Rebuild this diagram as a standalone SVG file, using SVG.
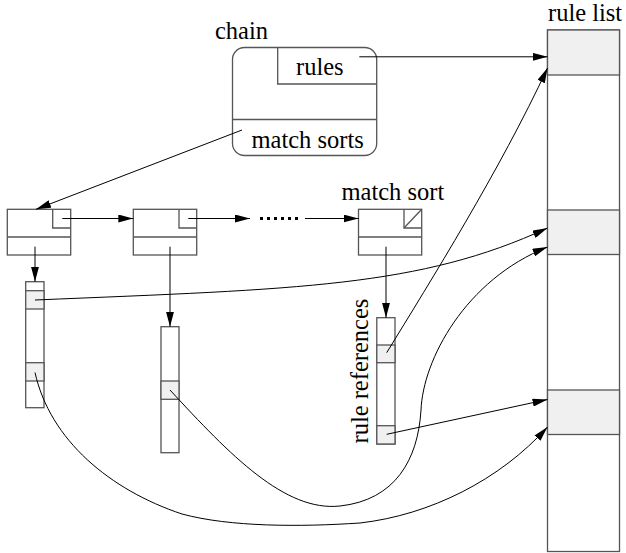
<svg xmlns="http://www.w3.org/2000/svg" width="626" height="553" viewBox="0 0 626 553">
  <style>
    .box { fill: #ffffff; stroke: #555555; stroke-width: 1.3; }
    .cell { fill: #f0f0f0; stroke: #555555; stroke-width: 1.3; }
    .part { fill: none; stroke: #555555; stroke-width: 1.3; }
    .link { fill: none; stroke: #000000; stroke-width: 1; }
    .label { font-family: "Liberation Serif", "Times New Roman", serif; font-size: 24.5px; fill: #000000; }
  </style>
  <defs>
    <marker id="arrow" markerUnits="userSpaceOnUse" viewBox="0 0 15 8" markerWidth="15" markerHeight="8" refX="15" refY="4" orient="auto">
      <path d="M0,0 L15,4 L0,8 z" fill="#000000"/>
    </marker>
  </defs>

  <!-- chain record -->
  <g id="chain">
    <text class="label" x="215" y="39">chain</text>
    <rect class="box" x="232.5" y="47.5" width="144.2" height="108" rx="12" ry="12"/>
    <path class="part" d="M277.7,47.5 V84 H376.7"/>
    <line class="part" x1="232.5" y1="119.5" x2="376.7" y2="119.5"/>
    <text class="label" x="296" y="75">rules</text>
    <text class="label" x="251.5" y="148">match sorts</text>
  </g>

  <!-- rule list -->
  <g id="rule-list">
    <text class="label" x="548" y="20.5">rule list</text>
    <rect class="box" x="547.5" y="30" width="72" height="521.5"/>
    <rect class="cell" x="547.5" y="30" width="72" height="45"/>
    <rect class="cell" x="547.5" y="210" width="72" height="44.5"/>
    <rect class="cell" x="547.5" y="390" width="72" height="44.5"/>
  </g>

  <!-- match sort nodes -->
  <g id="match-sort-1">
    <rect class="box" x="7.3" y="209.3" width="63.4" height="45.7"/>
    <line class="part" x1="7.3" y1="237" x2="70.7" y2="237"/>
    <path class="part" d="M52.7,209.3 V228 H70.7"/>
  </g>
  <g id="match-sort-2">
    <rect class="box" x="133.3" y="209.3" width="63.4" height="45.7"/>
    <line class="part" x1="133.3" y1="237" x2="196.7" y2="237"/>
    <path class="part" d="M179,209.3 V228 H196.7"/>
  </g>
  <g id="match-sort-last">
    <text class="label" x="341.5" y="200">match sort</text>
    <rect class="box" x="358.5" y="209.3" width="63.2" height="45.7"/>
    <line class="part" x1="358.5" y1="237" x2="421.7" y2="237"/>
    <path class="part" d="M404,209.3 V228 H421.7"/>
    <line class="part" x1="404" y1="228" x2="421.7" y2="209.3"/>
  </g>

  <!-- rule reference arrays -->
  <g id="refs-1">
    <rect class="box" x="25.7" y="281.7" width="18.3" height="126"/>
    <rect class="cell" x="25.7" y="290.7" width="18.3" height="18.3"/>
    <rect class="cell" x="25.7" y="362.7" width="18.3" height="18.3"/>
  </g>
  <g id="refs-2">
    <rect class="box" x="161" y="326.7" width="18" height="126"/>
    <rect class="cell" x="161" y="381" width="18" height="18.3"/>
  </g>
  <g id="refs-last">
    <rect class="box" x="376.8" y="317.7" width="18.2" height="126.3"/>
    <rect class="cell" x="376.8" y="345" width="18.2" height="17.7"/>
    <rect class="cell" x="376.8" y="425.7" width="18.2" height="18.3"/>
    <text class="label" transform="translate(368,443.5) rotate(-90)">rule references</text>
  </g>

  <!-- pointers -->
  <g id="connectors">
    <line class="link" x1="359.3" y1="56.8" x2="547.5" y2="56.8" marker-end="url(#arrow)"/>
    <line class="link" x1="242" y1="130" x2="36" y2="209.3" marker-end="url(#arrow)"/>

    <line class="link" x1="62.3" y1="218.5" x2="133.3" y2="218.5" marker-end="url(#arrow)"/>
    <line class="link" x1="188.3" y1="218.5" x2="250" y2="218.5" marker-end="url(#arrow)"/>
    <line x1="260" y1="218.5" x2="298" y2="218.5" stroke="#000000" stroke-width="3" stroke-dasharray="3 4"/>
    <line class="link" x1="305" y1="218.5" x2="358.5" y2="218.5" marker-end="url(#arrow)"/>

    <line class="link" x1="35" y1="246.7" x2="35" y2="281.7" marker-end="url(#arrow)"/>
    <line class="link" x1="170" y1="246.7" x2="170" y2="326.7" marker-end="url(#arrow)"/>
    <line class="link" x1="386" y1="246.7" x2="386" y2="317.7" marker-end="url(#arrow)"/>

    <path class="link" d="M35,300 C300,289 420,287 547.5,228" marker-end="url(#arrow)"/>
    <path class="link" d="M35,372.5 C50,440 110,490 182,514 C230,527 300,527 360,523 C430,515 500,480 547.5,427" marker-end="url(#arrow)"/>
    <path class="link" d="M170,390 C230,455 285,512 340,506 C395,500 418,460 421,410 C423,360 465,280 547.5,247" marker-end="url(#arrow)"/>
    <path class="link" d="M386.7,352.7 C430,282 500,170 547.5,68" marker-end="url(#arrow)"/>
    <line class="link" x1="386.7" y1="434.3" x2="547.5" y2="399.5" marker-end="url(#arrow)"/>
  </g>
</svg>
